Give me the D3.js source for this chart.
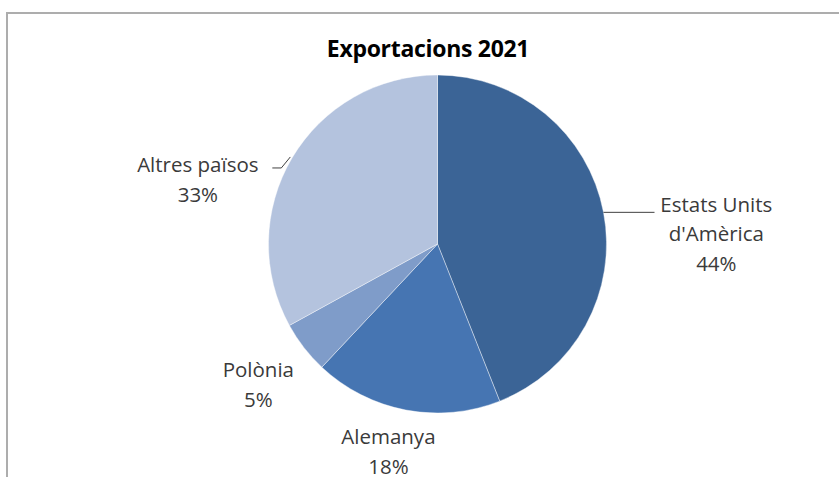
<!DOCTYPE html>
<html><head><meta charset="utf-8">
<script src="https://cdn.jsdelivr.net/npm/d3@7"></script>
<style>body{margin:0;background:#fff}svg{display:block}</style>
</head><body><svg id="c" width="839" height="477"></svg>
<script>
const title = "Exportacions 2021";
const categories = ["Estats Units d'Amèrica", "Alemanya", "Polònia", "Altres països"];
const labelLines = [["Estats Units", "d'Amèrica"], ["Alemanya"], ["Polònia"], ["Altres països"]];
const values = [44, 18, 5, 33];
const colors = ["#3b6496", "#4675b2", "#7f9cc9", "#b4c3de"];

const svg = d3.select("#c");
svg.append("rect").attr("x", 7).attr("y", 13).attr("width", 900).attr("height", 600)
  .attr("fill", "#fff").attr("stroke", "#adadad").attr("stroke-width", 2);

svg.append("text").attr("x", 428).attr("y", 57).attr("text-anchor", "middle")
  .attr("font-family", "Open Sans").attr("font-weight", "bold").attr("font-size", 23)
  .attr("letter-spacing", -0.3)
  .attr("fill", "#000").text(title);

const cx = 437.5, cy = 244, r = 169;
const g = svg.append("g").attr("transform", `translate(${cx},${cy})`);
const pie = d3.pie().sort(null).value(d => d)(values);
const arc = d3.arc().innerRadius(0).outerRadius(r);
g.selectAll("path").data(pie).join("path")
  .attr("d", arc).attr("fill", (d, i) => colors[i])
  .attr("stroke", "#fff").attr("stroke-opacity", 0.5).attr("stroke-width", 0.8);

const total = d3.sum(values);
// label layout: angle (deg, clockwise from 12h) and distance from centre for label block centre
const layout = [
  {ang: 88, dist: 279},
  {ang: 193.3, dist: 213.5},
  {ang: 231.8, dist: 228},
  {ang: 284.9, dist: 248}
];
const lh = 29.5;
pie.forEach((d, i) => {
  const L = layout[i];
  const a = L.ang * Math.PI / 180;
  const x = Math.sin(a) * L.dist, y = -Math.cos(a) * L.dist;
  const lines = labelLines[i].concat([Math.round(values[i] / total * 100) + "%"]);
  const n = lines.length;
  const t = g.append("text").attr("text-anchor", "middle")
    .attr("font-family", "Open Sans").attr("font-size", 20.5).attr("fill", "#3a3a3a");
  lines.forEach((s, k) => {
    t.append("tspan").attr("x", x).attr("y", y + (k - (n - 1) / 2) * lh + 7).text(s);
  });
});

// leader lines
const leader = d3.line();
const ea = (pie[0].startAngle + pie[0].endAngle) / 2;
const e0 = [Math.sin(ea) * r, -Math.cos(ea) * r];
g.append("path").attr("d", leader([[e0[0], e0[1]], [217, e0[1]]]))
  .attr("stroke", "#404040").attr("stroke-width", 1).attr("fill", "none");
const oa = (pie[3].startAngle + pie[3].endAngle) / 2;
const o0 = [Math.sin(oa) * (r + 2), -Math.cos(oa) * (r + 2)];
g.append("path").attr("d", leader([[o0[0], o0[1]], [o0[0] - 9, o0[1] + 11], [o0[0] - 18, o0[1] + 11]]))
  .attr("stroke", "#404040").attr("stroke-width", 1).attr("fill", "none");
</script></body></html>
